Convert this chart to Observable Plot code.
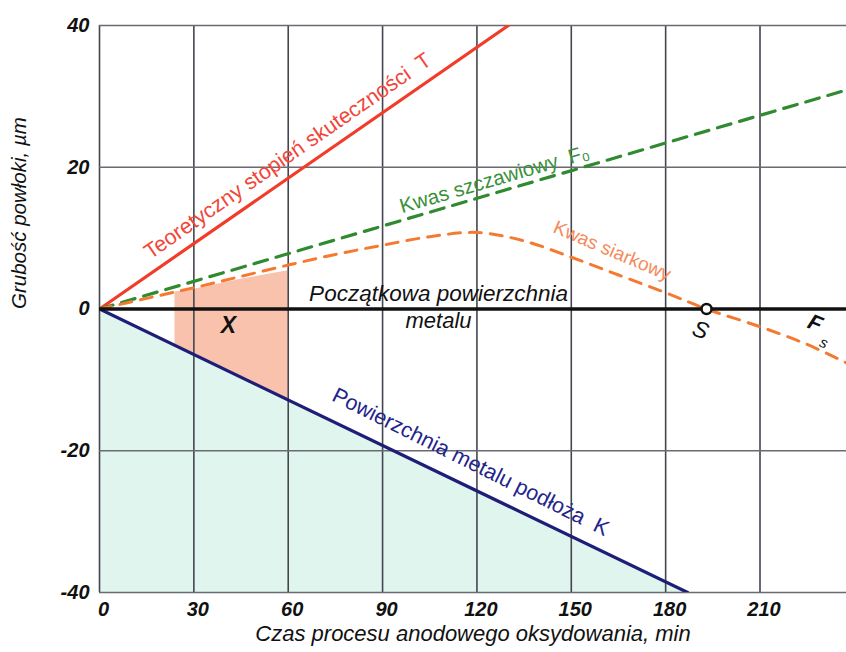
<!DOCTYPE html>
<html>
<head>
<meta charset="utf-8">
<script src="https://cdn.jsdelivr.net/npm/d3@7"></script>
<script src="https://cdn.jsdelivr.net/npm/@observablehq/plot@0.6"></script>
<style>
  body { margin: 0; background: #fff; }
  #chart svg { display: block; }
</style>
</head>
<body>
<div id="chart"></div>
<script>
// ---- data ----
const xTicks = [0, 30, 60, 90, 120, 150, 180, 210];
const yTicks = [-40, -20, 0, 20, 40];

// Teoretyczny stopień skuteczności T
const tX = [0, 130];
const tY = [0, 40];

// Kwas szczawiowy F0
const fX = [0, 237.5];
const fY = [0, 30.9];

// Kwas siarkowy Fs
const sX = [0, 15, 30, 45, 60, 75, 90, 105, 120, 135, 150, 165, 180, 193, 210, 225, 237.5];
const sY = [0, 1.5, 3.0, 4.6, 6.2, 7.7, 9.0, 10.2, 10.8, 9.6, 7.3, 4.8, 2.3, 0, -2.5, -5.0, -7.6];

// Powierzchnia metalu podłoża K
const kX = [0, 187];
const kY = [0, -40];

// shaded region X
const xoX = [24, 30, 45, 60];
const xoTop = [2.4, 2.8, 4.2, 5.4];
const xoBot = [-5.1, -6.4, -9.6, -12.8];

// point S
const sPoint = [{x: 193, y: 0}];

const font = "'Liberation Sans', Arial, sans-serif";

const T = tX.map((x, i) => ({x, y: tY[i]}));
const F0 = fX.map((x, i) => ({x, y: fY[i]}));
const FS = sX.map((x, i) => ({x, y: sY[i]}));
const K = kX.map((x, i) => ({x, y: kY[i]}));
const XA = xoX.map((x, i) => ({x, top: xoTop[i], bot: xoBot[i]}));

const chart = Plot.plot({
  width: 846,
  height: 652,
  marginTop: 25,
  marginRight: 0,
  marginBottom: 60,
  marginLeft: 99,
  style: {background: "#fff", fontFamily: font, overflow: "visible"},
  x: {domain: [0, 237.5]},
  y: {domain: [-40, 40]},
  marks: [
    Plot.areaY(K, {x: "x", y1: "y", y2: -40, fill: "#dff5ee"}),
    Plot.areaY(XA, {x: "x", y1: "bot", y2: "top", fill: "#f9c2ad"}),
    Plot.gridX(xTicks, {stroke: "#45454f", strokeOpacity: 1, strokeWidth: 1.6}),
    Plot.gridY(yTicks, {stroke: "#6a6a72", strokeOpacity: 1, strokeWidth: 1.4}),
    Plot.line(T, {x: "x", y: "y", stroke: "#f23c2a", strokeWidth: 3.2, clip: true}),
    Plot.line(F0, {x: "x", y: "y", stroke: "#2f8a30", strokeWidth: 3.2, strokeDasharray: "14,9", clip: true}),
    Plot.line(FS, {x: "x", y: "y", stroke: "#f47a32", strokeWidth: 3, strokeDasharray: "12,9", curve: "catmull-rom", clip: true}),
    Plot.line(K, {x: "x", y: "y", stroke: "#1e1e78", strokeWidth: 3.2, clip: true}),
    Plot.ruleY([0], {stroke: "#111", strokeWidth: 3.5}),
    Plot.dot(sPoint, {x: "x", y: "y", r: 5, fill: "#fff", stroke: "#111", strokeWidth: 2.5}),
    // labels
    Plot.text(["Teoretyczny stopień skuteczności  T"], {x: 59.8, y: 21.6, rotate: -34.8, fill: "#f2463a", fontSize: 21.5, fontFamily: font}),
    Plot.text(["Kwas szczawiowy  F₀"], {x: 125.6, y: 18.3, rotate: -16.3, fill: "#3a913a", fontSize: 20.5, fontFamily: font}),
    Plot.text(["Kwas siarkowy"], {x: 163, y: 8.2, rotate: 23, fill: "#f58a5c", fontSize: 19, fontFamily: font}),
    Plot.text(["Powierzchnia metalu podłoża  K"], {x: 118, y: -21.6, rotate: 26.5, fill: "#24248a", fontSize: 21.5, fontFamily: font}),
    Plot.text(["Początkowa powierzchnia"], {x: 107.8, y: 2.2, fill: "#111", fontSize: 22.5, fontStyle: "italic", fontFamily: font}),
    Plot.text(["metalu"], {x: 107.8, y: -1.7, fill: "#111", fontSize: 22, fontStyle: "italic", fontFamily: font}),
    Plot.text(["X"], {x: 41, y: -2.3, fill: "#111", fontSize: 23, fontStyle: "italic", fontWeight: "bold", fontFamily: font}),
    Plot.text(["S"], {x: 191.1, y: -3.0, rotate: 20, fill: "#111", fontSize: 23, fontStyle: "italic", fontFamily: font}),
    Plot.text(["F"], {x: 227.5, y: -2.0, rotate: 22, fill: "#111", fontSize: 22, fontStyle: "italic", fontWeight: "bold", fontFamily: font}),
    Plot.text(["s"], {x: 230.3, y: -4.8, rotate: 22, fill: "#111", fontSize: 15, fontStyle: "italic", fontFamily: font}),
    // axes
    Plot.axisX(xTicks, {tickSize: 0, tickPadding: 9, dx: 4, fontSize: 20, fontStyle: "italic", fontWeight: "bold", fill: "#111", label: null, tickFormat: d => String(d), fontFamily: font}),
    Plot.axisY(yTicks, {tickSize: 0, tickPadding: 10, fontSize: 20, fontStyle: "italic", fontWeight: "bold", fill: "#111", label: null, tickFormat: d => String(d), fontFamily: font}),
    Plot.text(["Czas procesu anodowego oksydowania, min"], {frameAnchor: "bottom", dy: 48, fontSize: 22, fontStyle: "italic", fill: "#111", fontFamily: font}),
    Plot.text(["Grubość powłoki, µm"], {frameAnchor: "left", dx: -80, rotate: -90, fontSize: 20.5, fontStyle: "italic", fill: "#111", fontFamily: font})
  ]
});
document.getElementById("chart").appendChild(chart);
</script>
</body>
</html>
